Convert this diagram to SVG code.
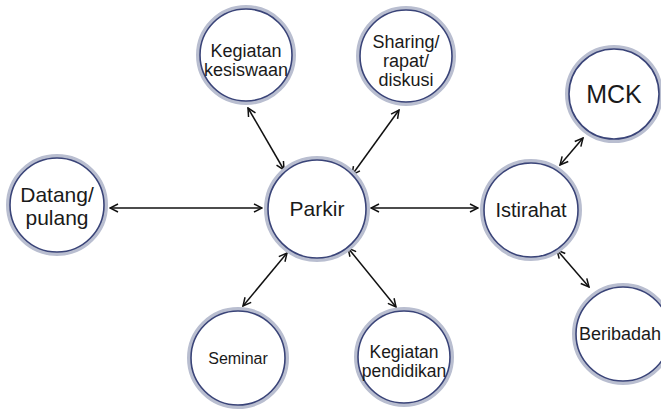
<svg xmlns="http://www.w3.org/2000/svg" width="661" height="410" viewBox="0 0 661 410">
<defs>
<style>
.ring{fill:#ffffff;stroke:#b9bed0;stroke-width:4}
.inner{fill:none;stroke:#3a4478;stroke-width:1.6}
.t{font-family:"Liberation Sans",Arial,sans-serif;fill:#1a1a1a;text-anchor:middle}
.c{stroke:#111;stroke-width:1.5;fill:none;marker-start:url(#ah);marker-end:url(#ah)}
</style>
<marker id="ah" viewBox="0 0 10 10" refX="9" refY="5" markerWidth="10" markerHeight="10" markerUnits="userSpaceOnUse" orient="auto-start-reverse">
<path d="M1,1 L9,5 L1,9" fill="none" stroke="#111" stroke-width="1.5"/>
</marker>
</defs>
<rect width="661" height="410" fill="#fff"/>
<g id="connectors">
<line class="c" x1="110" y1="208" x2="262" y2="208"/>
<line class="c" x1="371" y1="208" x2="478" y2="208"/>
<line class="c" x1="248" y1="108" x2="284" y2="170"/>
<line class="c" x1="399" y1="110" x2="352" y2="175"/>
<line class="c" x1="287" y1="253" x2="243" y2="306"/>
<line class="c" x1="348" y1="248" x2="396" y2="307"/>
<line class="c" x1="560" y1="165" x2="583" y2="138"/>
<line class="c" x1="557" y1="250" x2="589" y2="287"/>
</g>
<g id="kesiswaan"><circle class="ring" cx="246" cy="55" r="48"/><circle class="inner" cx="246" cy="55" r="46"/>
<text class="t" x="246" y="57" font-size="18">Kegiatan</text><text class="t" x="246" y="76" font-size="18">kesiswaan</text></g>
<g id="sharing"><circle class="ring" cx="406" cy="56" r="48"/><circle class="inner" cx="406" cy="56" r="46"/>
<text class="t" x="406" y="48" font-size="18">Sharing/</text><text class="t" x="406" y="67" font-size="18">rapat/</text><text class="t" x="406" y="86" font-size="18">diskusi</text></g>
<g id="datang"><circle class="ring" cx="57" cy="205" r="49"/><circle class="inner" cx="57" cy="205" r="47"/>
<text class="t" x="57" y="202" font-size="21">Datang/</text><text class="t" x="57" y="225" font-size="21">pulang</text></g>
<g id="parkir"><circle class="ring" cx="317" cy="209" r="51"/><circle class="inner" cx="317" cy="209" r="49"/>
<text class="t" x="317" y="216" font-size="21">Parkir</text></g>
<g id="istirahat"><circle class="ring" cx="531" cy="210" r="49"/><circle class="inner" cx="531" cy="210" r="47"/>
<text class="t" x="531" y="217" font-size="20">Istirahat</text></g>
<g id="mck"><circle class="ring" cx="614" cy="94" r="47"/><circle class="inner" cx="614" cy="94" r="45"/>
<text class="t" x="614" y="103" font-size="25">MCK</text></g>
<g id="beribadah"><circle class="ring" cx="623" cy="334" r="49"/><circle class="inner" cx="623" cy="334" r="47"/>
<text class="t" x="620" y="340" font-size="18">Beribadah</text></g>
<g id="seminar"><circle class="ring" cx="238" cy="358" r="49"/><circle class="inner" cx="238" cy="358" r="47"/>
<text class="t" x="238" y="364" font-size="16">Seminar</text></g>
<g id="pendidikan"><circle class="ring" cx="404" cy="357" r="48"/><circle class="inner" cx="404" cy="357" r="46"/>
<text class="t" x="404" y="358" font-size="17.5">Kegiatan</text><text class="t" x="404" y="377" font-size="17.5">pendidikan</text></g>
</svg>
